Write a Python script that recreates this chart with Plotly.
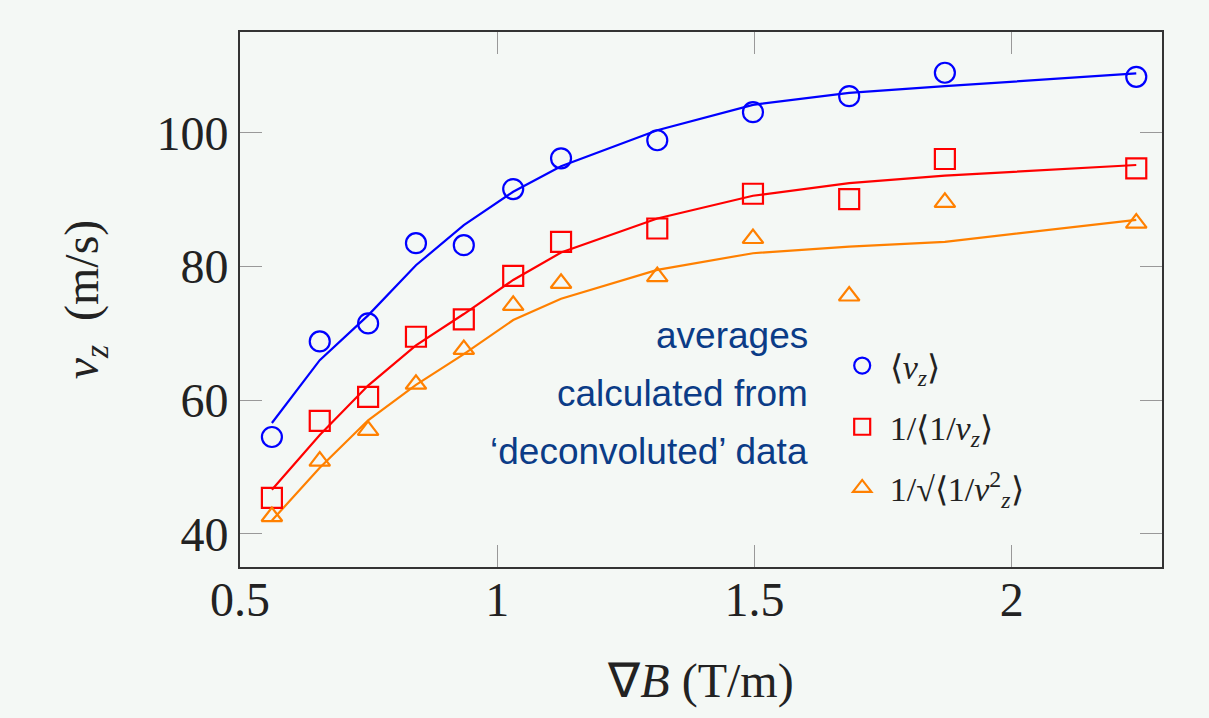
import plotly.graph_objects as go

# data
grad_B = [0.562, 0.655, 0.749, 0.842, 0.935, 1.031, 1.124, 1.311, 1.497, 1.684, 1.870, 2.242]

mean_vz_pts = [54.5, 68.8, 71.5, 83.5, 83.2, 91.6, 96.2, 98.9, 103.1, 105.5, 109.0, 108.4]
mean_vz_fit = [56.6, 66.0, 72.7, 80.2, 86.2, 91.2, 95.0, 100.4, 104.2, 106.0, 107.0, 108.9]

inv_mean_inv_pts = [45.4, 56.9, 60.5, 69.5, 72.1, 78.6, 83.7, 85.7, 90.9, 90.1, 96.1, 94.7]
inv_mean_inv_fit = [46.6, 54.8, 62.2, 68.2, 72.9, 78.0, 82.1, 87.2, 90.6, 92.5, 93.6, 95.2]

inv_rms_inv_pts = [42.6, 50.9, 55.5, 62.4, 67.6, 74.2, 77.5, 78.5, 84.2, 75.6, 89.6, 86.5]
inv_rms_inv_fit = [42.0, 49.9, 57.0, 62.3, 66.9, 72.0, 75.2, 79.5, 82.0, 83.0, 83.7, 87.0]

series_names = ["⟨<i>v<sub>z</sub></i>⟩",
                "1/⟨1/<i>v<sub>z</sub></i>⟩",
                "1/√⟨1/<i>v</i><sup>2</sup><sub><i>z</i></sub>⟩"]
colors = ["#0000ff", "#ff0000", "#ff8000"]
symbols = ["circle-open", "square-open", "triangle-up-open"]

x_ticks = [0.5, 1, 1.5, 2]
y_ticks = [40, 60, 80, 100]

note_lines = ["averages", "calculated from", "‘deconvoluted’ data"]
note_y = [69.7, 61.0, 52.3]

fig = go.Figure()
pts = [mean_vz_pts, inv_mean_inv_pts, inv_rms_inv_pts]
fits = [mean_vz_fit, inv_mean_inv_fit, inv_rms_inv_fit]
for i in range(3):
    fig.add_trace(go.Scatter(x=grad_B, y=fits[i], mode="lines",
                             line=dict(color=colors[i], width=2.2),
                             showlegend=False, hoverinfo="skip"))
for i in range(3):
    fig.add_trace(go.Scatter(x=grad_B, y=pts[i], mode="markers", name=series_names[i],
                             legendgroup=f"g{i}",
                             marker=dict(symbol=symbols[i], size=20 if i < 2 else 18,
                                         color=colors[i], line=dict(color=colors[i], width=2.2))))

bg = "#f4f8f5"
serif = "Liberation Serif"
annotations = [dict(x=1.607, y=yv, xref="x", yref="y", text=t, showarrow=False,
                    xanchor="right", yanchor="middle", align="right",
                    font=dict(family="Liberation Sans", size=37, color="#0b3c87"))
               for t, yv in zip(note_lines, note_y)]

fig.update_layout(
    width=1209, height=718,
    margin=dict(l=240, r=47, t=32, b=151),
    paper_bgcolor=bg, plot_bgcolor=bg,
    font=dict(family=serif, color="#222222", size=48),
    showlegend=True,
    legend=dict(x=0.645, y=0.43, xanchor="left", yanchor="top",
                bgcolor="rgba(0,0,0,0)", font=dict(family=serif, size=34, color="#222222"),
                tracegroupgap=14, itemsizing="trace", itemwidth=45),
    annotations=annotations,
)
fig.update_xaxes(range=[0.5, 2.292], tickvals=x_ticks, ticktext=[str(v) for v in x_ticks],
                 ticks="inside", ticklen=22, tickwidth=1.2, tickcolor="#999999",
                 showline=True, linecolor="#333333", linewidth=2, mirror="ticks",
                 showgrid=False, zeroline=False, ticklabelstandoff=-11,
                 title=dict(text="∇<i>B</i> (T/m)", standoff=39, font=dict(size=48)))
fig.update_yaxes(range=[35.05, 115.1], tickvals=y_ticks,
                 ticks="inside", ticklen=22, tickwidth=1.2, tickcolor="#999999",
                 showline=True, linecolor="#333333", linewidth=2, mirror="ticks",
                 showgrid=False, zeroline=False,
                 title=dict(text="<i>v<sub>z</sub></i>  (m/s)", standoff=43, font=dict(size=48)))

fig.write_html("out.html")
